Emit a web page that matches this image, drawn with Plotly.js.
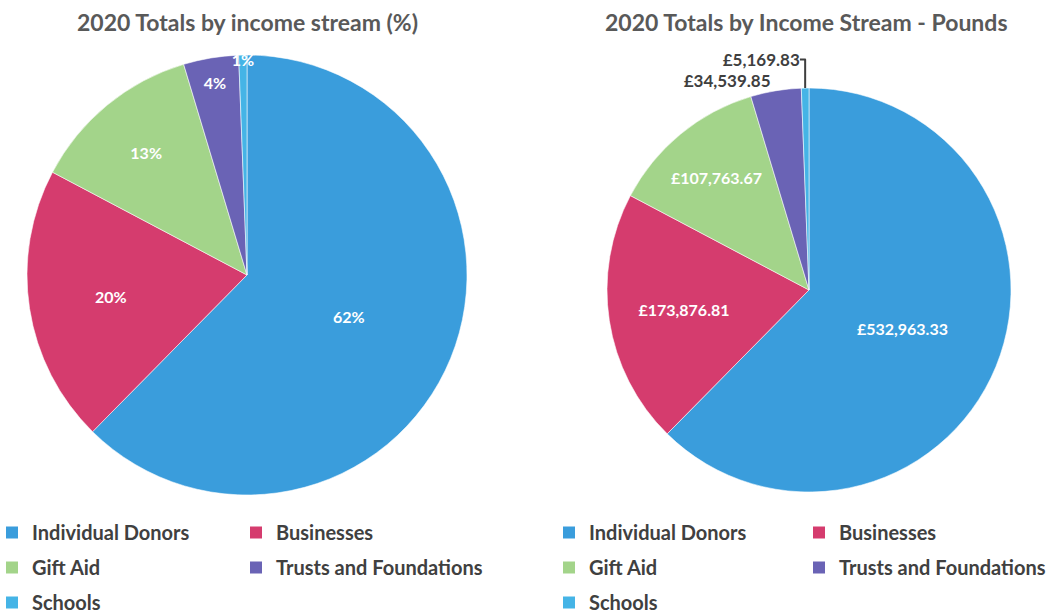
<!DOCTYPE html>
<html>
<head>
<meta charset="utf-8">
<script src="https://cdn.plot.ly/plotly-3.0.1.min.js"></script>
<style>
html, body { margin: 0; padding: 0; background: #ffffff; }
#chart { width: 1049px; height: 616px; }
</style>
</head>
<body>
<div id="chart"></div>
<script>
// ---- data ----
const categories = ['Individual Donors', 'Businesses', 'Gift Aid', 'Trusts and Foundations', 'Schools'];
const pounds2020 = [532963.33, 173876.81, 107763.67, 34539.85, 5169.83];
const chartTitles = ['2020 Totals by income stream (%)', '2020 Totals by Income Stream - Pounds'];

// ---- styles ----
const sliceColors = ['#3A9DDC', '#D53C6E', '#A3D48A', '#6A63B5', '#45B4E6'];
const W = 1049, H = 616;
const FONT = 'Lato, "Open Sans", sans-serif';
const pieBoxes = [
  {x0: 27, x1: 467, y0: 55, y1: 495},
  {x0: 607, x1: 1011, y0: 88, y1: 492}
];
const toDomain = b => ({x: [b.x0 / W, b.x1 / W], y: [1 - b.y1 / H, 1 - b.y0 / H]});

const commonPie = {
  type: 'pie',
  labels: categories,
  values: pounds2020,
  sort: false,
  direction: 'clockwise',
  rotation: 0,
  marker: {colors: sliceColors, line: {color: 'rgba(255,255,255,0.55)', width: 1}},
  insidetextorientation: 'horizontal',
  insidetextfont: {family: FONT, size: 16, color: '#ffffff', weight: 'bold'},
  outsidetextfont: {family: FONT, size: 17, color: '#3f3f3f', weight: 'bold'},
  showlegend: false,
  hoverinfo: 'skip'
};

const traces = [
  Object.assign({}, commonPie, {
    domain: toDomain(pieBoxes[0]),
    texttemplate: '%{percent:.0%}',
    textposition: 'inside'
  }),
  Object.assign({}, commonPie, {
    domain: toDomain(pieBoxes[1]),
    texttemplate: '£%{value:,.2f}',
    textposition: ['inside', 'inside', 'inside', 'outside', 'outside']
  })
];

// legend entries: one legend per column (2 columns under each pie)
const legendNames = [['legend', 'legend2'], ['legend3', 'legend4']];
[0, 1].forEach(chart => {
  categories.forEach((cat, i) => {
    traces.push({
      type: 'scatter', mode: 'markers',
      x: [null], y: [null],
      name: cat,
      legend: legendNames[chart][i % 2],
      legendgroup: 'c' + chart + '_' + i,
      showlegend: true,
      hoverinfo: 'skip',
      marker: {symbol: 'square', size: 12, color: sliceColors[i], line: {width: 0}}
    });
  });
});

const legendLefts = [-8, 236, 549, 799];
const legendTop = 513;
function legendCfg(left) {
  return {
    x: left / W, xanchor: 'left', xref: 'paper',
    y: 1 - legendTop / H, yanchor: 'top', yref: 'paper',
    orientation: 'v', traceorder: 'grouped', tracegroupgap: 6,
    bgcolor: 'rgba(0,0,0,0)', borderwidth: 0,
    font: {family: FONT, size: 20, color: '#404040', weight: 'bold'}
  };
}

const layout = {
  width: W, height: H,
  margin: {l: 0, r: 0, t: 0, b: 0, autoexpand: false},
  paper_bgcolor: '#ffffff', plot_bgcolor: '#ffffff',
  xaxis: {visible: false, range: [0, 1], fixedrange: true},
  yaxis: {visible: false, range: [0, 1], fixedrange: true},
  uniformtext: {mode: 'show', minsize: 16},
  legend: legendCfg(legendLefts[0]),
  legend2: legendCfg(legendLefts[1]),
  legend3: legendCfg(legendLefts[2]),
  legend4: legendCfg(legendLefts[3]),
  annotations: chartTitles.map((t, k) => ({
    text: t, showarrow: false, xref: 'paper', yref: 'paper',
    x: [247.5, 806.5][k] / W, y: 1 - 22 / H, xanchor: 'center', yanchor: 'middle',
    font: {family: FONT, size: 23, color: '#595959', weight: 'bold'}
  }))
};

Plotly.newPlot('chart', traces, layout, {staticPlot: true, displayModeBar: false});
</script>
</body>
</html>
